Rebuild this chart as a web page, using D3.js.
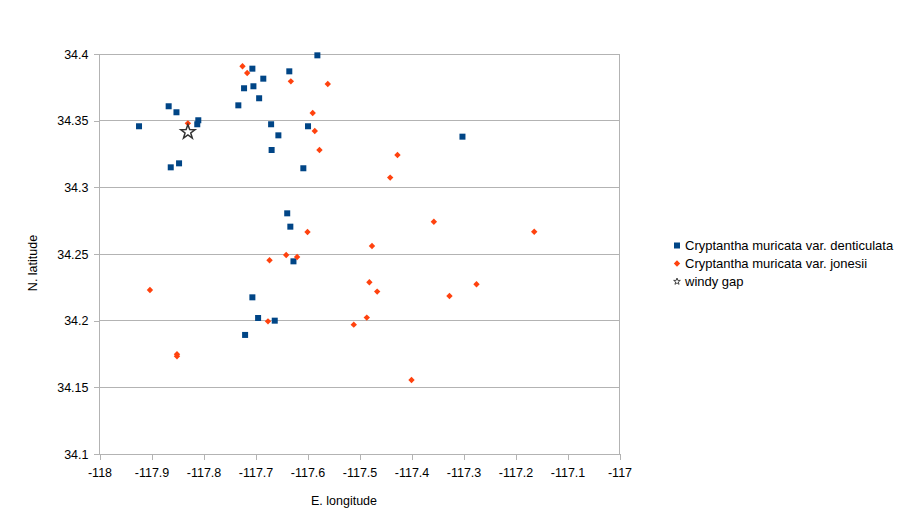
<!DOCTYPE html>
<html><head><meta charset="utf-8">
<script src="https://cdn.jsdelivr.net/npm/d3@7"></script>
<style>body{margin:0;background:#fff}svg{font-family:"Liberation Sans",Arial,sans-serif}</style>
</head><body><svg id="c" width="907" height="529"></svg>
<script>
const xTicks = [-118,-117.9,-117.8,-117.7,-117.6,-117.5,-117.4,-117.3,-117.2,-117.1,-117];
const yTicks = [34.1,34.15,34.2,34.25,34.3,34.35,34.4];
const seriesNames = ["Cryptantha muricata var. denticulata","Cryptantha muricata var. jonesii","windy gap"];
// [lon, lat]
const denticulata = [
 [-117.924,34.3458],[-117.867,34.3608],[-117.852,34.3563],[-117.810,34.3503],[-117.812,34.3473],
 [-117.863,34.3150],[-117.847,34.3180],[-117.733,34.3615],[-117.722,34.3743],[-117.706,34.3890],
 [-117.704,34.3758],[-117.685,34.3815],[-117.693,34.3668],[-117.670,34.3473],[-117.656,34.3390],
 [-117.669,34.3280],[-117.635,34.3870],[-117.581,34.3990],[-117.599,34.3458],[-117.608,34.3143],
 [-117.302,34.3380],[-117.639,34.2805],[-117.633,34.2705],[-117.627,34.2445],[-117.706,34.2175],
 [-117.695,34.2020],[-117.663,34.2000],[-117.720,34.1893]
];
const jonesii = [
 [-117.830,34.3480],[-117.725,34.3908],[-117.716,34.3858],[-117.632,34.3795],[-117.561,34.3775],
 [-117.590,34.3558],[-117.586,34.3423],[-117.577,34.3280],[-117.427,34.3243],[-117.441,34.3073],
 [-117.600,34.2665],[-117.476,34.2560],[-117.641,34.2493],[-117.620,34.2478],[-117.673,34.2453],
 [-117.903,34.2230],[-117.481,34.2288],[-117.466,34.2218],[-117.676,34.1995],[-117.486,34.2023],
 [-117.511,34.1970],[-117.851,34.1748],[-117.851,34.1733],[-117.357,34.2742],[-117.164,34.2667],
 [-117.275,34.2273],[-117.327,34.2185],[-117.400,34.1555]
];
const windyGap = [[-117.830,34.3415]];

const svg = d3.select("#c");
const L=99.5, R=619.5, T=54, B=454;
const x = d3.scaleLinear().domain([-118,-117]).range([L,R]);
const y = d3.scaleLinear().domain([34.1,34.4]).range([B,T]);
const grid="#b3b3b3";

svg.append("g").selectAll("line").data(yTicks.filter(d=>d>34.1)).join("line")
 .attr("x1",L).attr("x2",R).attr("y1",d=>y(d)).attr("y2",d=>y(d)).attr("stroke",grid).attr("stroke-width",1).attr("shape-rendering","crispEdges");
svg.append("line").attr("x1",R).attr("x2",R).attr("y1",T).attr("y2",B).attr("stroke",grid).attr("shape-rendering","crispEdges");

const fmt = d=>String(+d.toFixed(2));
const xa = svg.append("g").attr("transform",`translate(0,${B})`)
 .call(d3.axisBottom(x).tickValues(xTicks).tickFormat(fmt).tickSize(6).tickPadding(5));
const ya = svg.append("g").attr("transform",`translate(${L},0)`)
 .call(d3.axisLeft(y).tickValues(yTicks).tickFormat(fmt).tickSize(6).tickPadding(5));
[xa,ya].forEach(a=>{
 a.selectAll("path,line").attr("stroke",grid).attr("shape-rendering","crispEdges");
 a.selectAll("text").attr("font-size","12.5px").attr("fill","#000").attr("font-family","Liberation Sans, Arial, sans-serif");
 a.select(".domain").attr("d", a===xa ? `M${L},0.5H${R}` : `M-0.5,${T}V${B}`);
});
xa.selectAll("text").attr("dy","0.95em");

svg.append("text").attr("x",344).attr("y",505).attr("text-anchor","middle").attr("font-size","12.5px").text("E. longitude");
svg.append("text").attr("transform","translate(37,263) rotate(-90)").attr("text-anchor","middle").attr("font-size","12.5px").text("N. latitude");

const blue="#004586", orange="#ff420e";
const diamond = "M0,-3.2L3.2,0L0,3.2L-3.2,0Z";
function starPath(ro,ri){let p="";for(let i=0;i<10;i++){const r=i%2?ri:ro;const a=-Math.PI/2+i*Math.PI/5;p+=(i?"L":"M")+(r*Math.cos(a)).toFixed(2)+","+(r*Math.sin(a)).toFixed(2);}return p+"Z";}

svg.append("g").selectAll("rect").data(denticulata).join("rect")
 .attr("x",d=>x(d[0])-3).attr("y",d=>y(d[1])-3).attr("width",6).attr("height",6).attr("fill",blue);
svg.append("g").selectAll("path").data(jonesii).join("path")
 .attr("transform",d=>`translate(${x(d[0])},${y(d[1])})`).attr("d",diamond).attr("fill",orange);
svg.append("g").selectAll("path").data(windyGap).join("path")
 .attr("transform",d=>`translate(${x(d[0])},${y(d[1])})`).attr("d",starPath(7.5,3))
 .attr("fill","#fff").attr("fill-opacity",0.5).attr("stroke","#333").attr("stroke-width",1.5);

const lg = svg.append("g");
const ly=[245.5,263.5,281.5];
lg.append("rect").attr("x",674).attr("y",ly[0]-3).attr("width",6).attr("height",6).attr("fill",blue);
lg.append("path").attr("transform",`translate(677,${ly[1]})`).attr("d",diamond).attr("fill",orange);
lg.append("path").attr("transform",`translate(677,${ly[2]})`).attr("d",starPath(3.5,1.4)).attr("fill","#fff").attr("stroke","#333").attr("stroke-width",0.9);
lg.selectAll("text").data(seriesNames).join("text")
 .attr("x",685).attr("y",(d,i)=>ly[i]).attr("dy","0.35em").attr("font-size","13px").text(d=>d);
</script></body></html>
